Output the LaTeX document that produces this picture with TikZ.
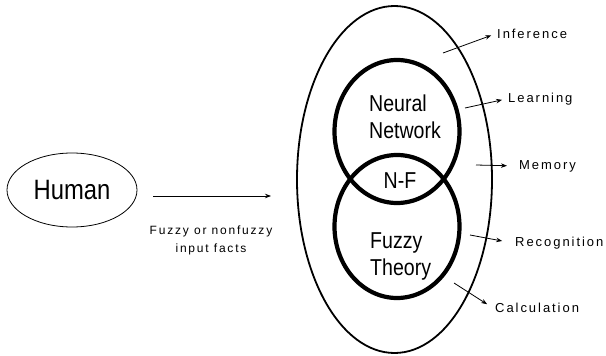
\documentclass[tikz,border=0pt]{standalone}
\usepackage{fontspec}
\setmainfont{Liberation Sans}
\newfontfamily\labfont[LetterSpace=15]{Liberation Sans}
\newfontfamily\bigfont[FakeStretch=0.85]{Liberation Sans}
\usetikzlibrary{shapes.geometric,arrows.meta}
\begin{document}
\begin{tikzpicture}[x=1pt,y=-1pt,
  arr/.style={line width=0.8pt,-{Stealth[length=6pt,width=4.5pt]}},
  lab/.style={anchor=west,inner sep=2pt,font=\labfont\fontsize{13}{15}\selectfont},
  ring/.style={draw,ellipse,line width=4.2pt,minimum width=125pt,minimum height=143pt,inner sep=0pt},
  inner/.style={anchor=west,align=left,inner sep=0pt,font=\bigfont\fontsize{23}{27}\selectfont}]
\useasboundingbox (0,0) rectangle (606,356);
\fill[white] (0,0) rectangle (606,356);
% nodes
\node[draw,ellipse,line width=0.8pt,minimum width=130pt,minimum height=74pt,inner sep=0pt,
      font=\bigfont\fontsize{28}{30}\selectfont] (human) at (72,190) {Human};
\node[draw,ellipse,line width=1.8pt,minimum width=195pt,minimum height=347pt,inner sep=0pt] (outer) at (394.5,179.5) {};
\node[ring] (nn) at (397,131.5) {};
\node[ring] (ft) at (397,226.5) {};
\node[inner] (nntext) at (369,117) {Neural\\Network};
\node[inner] (fttext) at (370,256) {Fuzzy\\Theory};
\node[font=\bigfont\fontsize{23}{27}\selectfont,inner sep=0pt] (nf) at (400,180.5) {N-F};
\node[align=center,inner sep=0pt,font=\labfont\fontsize{12}{18}\selectfont] (facts) at (211,240) {Fuzzy or nonfuzzy\\input facts};
% labels
\node[lab] (inf) at (495,34) {Inference};
\node[lab] (lea) at (506,99) {Learning};
\node[lab] (mem) at (517,166) {Memory};
\node[lab] (rec) at (513,243) {Recognition};
\node[lab] (cal) at (493,308) {Calculation};
% connectors
\coordinate (in0) at (153,196);
\coordinate (in1) at (271,196);
\draw[arr] (in0) -- (in1);
\coordinate (i0) at (443,53);
\coordinate (l0) at (465,108);
\coordinate (m0) at (476,165);
\coordinate (r0) at (470,235);
\coordinate (c0) at (454,283);
\draw[arr,shorten >=4pt] (i0) -- (inf.west);
\draw[arr,shorten >=4pt] (l0) -- (lea.west);
\draw[arr,shorten >=10pt] (m0) -- (mem.west);
\draw[arr,shorten >=11pt] (r0) -- (rec.west);
\draw[arr,shorten >=7pt] (c0) -- (cal.west);
\end{tikzpicture}
\end{document}
